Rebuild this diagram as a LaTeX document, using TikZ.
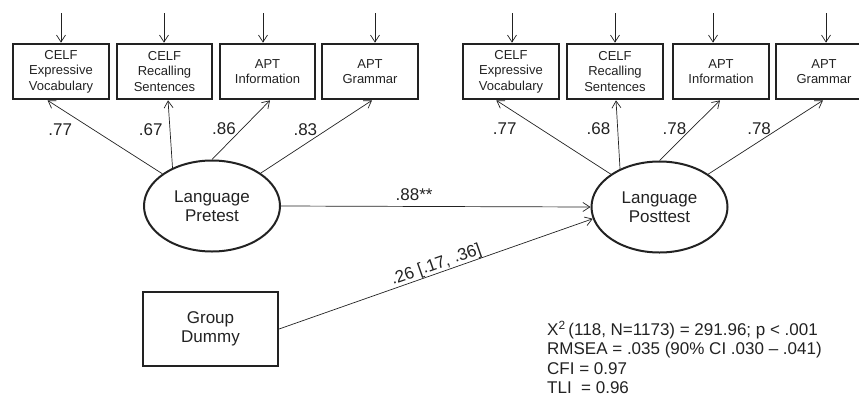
\documentclass[tikz,border=0pt]{standalone}
\usepackage{fontspec}
\setmainfont{Liberation Sans}
\usetikzlibrary{arrows.meta,shapes.geometric,positioning}
\definecolor{ink}{HTML}{222222}

\begin{document}
\begin{tikzpicture}[x=1pt,y=-1pt,
        >={Straight Barb[length=7pt,width=9pt]},
        ind/.style={draw=ink,line width=2.1pt,minimum width=95.6pt,minimum height=55.6pt,inner sep=0pt,
            align=center,text=ink,font=\fontsize{13}{15.5}\selectfont},
        lat/.style={ellipse,draw=ink,line width=2pt,minimum width=136pt,minimum height=91pt,inner sep=0pt,
            align=center,text=ink,font=\fontsize{17}{19.5}\selectfont},
        conn/.style={draw=ink,line width=0.7pt,->},
        lbl/.style={inner sep=0pt,text=ink,font=\fontsize{17}{19.5}\selectfont}]
        \useasboundingbox (0,0) rectangle (859,397);
        \clip (0,0) rectangle (859,397);

        \begin{scope}[every node/.append style={ind}]
            \node (a1) at (61,71.5)    {CELF\\Expressive\\Vocabulary};
            \node (a2) at (164.5,71.5) {CELF\\Recalling\\Sentences};
            \node (a3) at (267.5,71.5) {APT\\Information};
            \node (a4) at (370,71.5)   {APT\\Grammar};

            \node (b1) at (511,71.5) {CELF\\Expressive\\Vocabulary};
            \node (b2) at (615,71.5) {CELF\\Recalling\\Sentences};
            \node (b3) at (721,71.5) {APT\\Information};
            \node (b4) at (824,71.5) {APT\\Grammar};
        \end{scope}

        \node [lat] (pre)  at (212,206)   {Language\\Pretest};
        \node [lat] (post) at (659.5,207) {Language\\Posttest};
        \node [ind,minimum width=135pt,minimum height=74pt,font=\fontsize{17}{19.5}\selectfont] (grp) at (210.5,329) {Group\\Dummy};

        % residuals
        \foreach \n/\x in {a1/61,a2/164,a3/263,a4/375,b1/512,b2/615,b3/713,b4/826} {
            \coordinate (e\n) at (\x,13);
            \draw[conn] (e\n) -- (e\n |- \n.north);
        }

        % loadings
        \draw[conn] (pre.147) -- (a1.245) node [lbl,pos=0.6,left=21pt] (la1) {.77};
        \draw[conn] (pre.136) -- (a2.277) node [lbl,pos=0.57,left=7pt] (la2) {.67};
        \draw[conn] (pre.90)  -- (a3.275) node [lbl,pos=0.52,left=6pt] (la3) {.86};
        \draw[conn] (pre.34)  -- (a4.274) node [lbl,pos=0.6,left=10pt] (la4) {.83};

        \draw[conn] (post.146) -- (b1.243) node [lbl,pos=0.61,left=24pt] (lb1) {.77};
        \draw[conn] (post.136) -- (b2.272) node [lbl,pos=0.58,left=7pt] (lb2) {.68};
        \draw[conn] (post.90)  -- (b3.268) node [lbl,pos=0.53,left=5pt] (lb3) {.78};
        \draw[conn] (post.34)  -- (b4.268) node [lbl,pos=0.61,left=7pt] (lb4) {.78};

        % structural paths
        \draw[conn] (pre.east) -- (post.west) node [lbl,pos=0.43,above=5pt] (lpp) {.88**};
        \draw[conn] (grp.east) -- (post.190) node [lbl,pos=0.51,above,sloped] (lgp) {.26 [.17, .36]};

        \node [lbl,anchor=north west,align=left] (fit) at (547,320.5)
            {X\textsuperscript{2}\,(118, N=1173) = 291.96; p < .001\\
             RMSEA = .035 (90\% CI .030 -- .041)\\
             CFI = 0.97\\
             TLI\ \ = 0.96};
\end{tikzpicture}
\end{document}
